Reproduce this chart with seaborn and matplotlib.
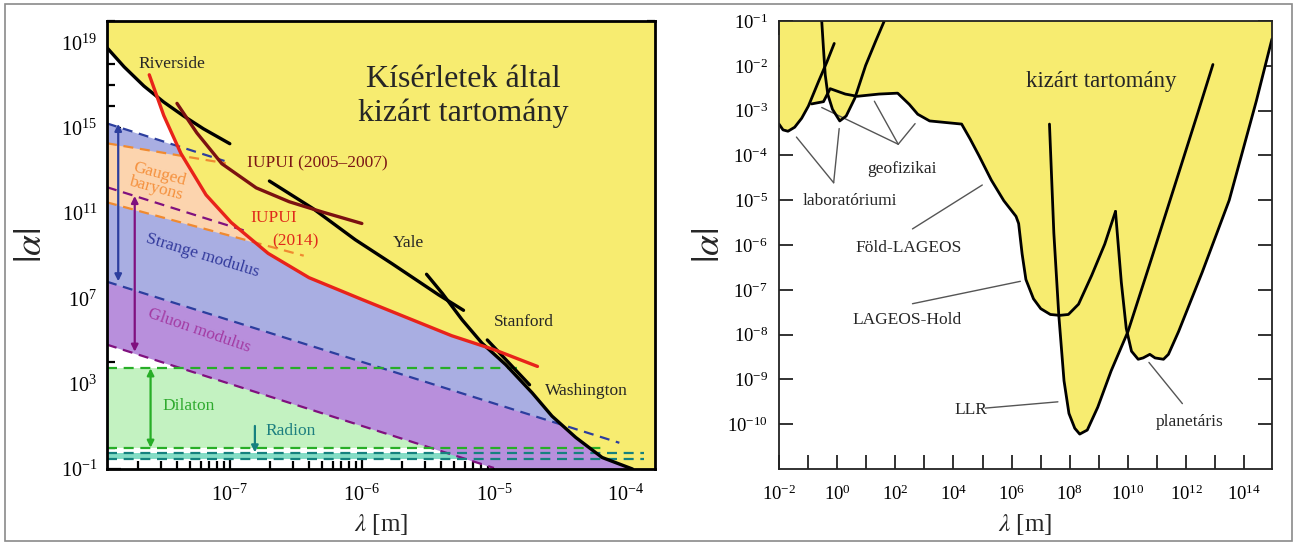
import numpy as np
import matplotlib
matplotlib.use("Agg")
import matplotlib.pyplot as plt
import seaborn as sns
from matplotlib.ticker import FixedLocator, NullFormatter, LogLocator
from matplotlib.patches import Rectangle

# all values are log10 (lambda [m]) / log10 |alpha|

# ---- left panel: experimental curves ----
riverside_x = [-7.93, -7.80, -7.65, -7.50, -7.35, -7.20, -7.00]
riverside_y = [18.75, 17.85, 16.95, 16.20, 15.55, 14.95, 14.25]
iupui14_x = [-7.61, -7.50, -7.37, -7.18, -6.99, -6.71, -6.40, -6.00, -5.70, -5.32, -5.00, -4.67]
iupui14_y = [17.48, 15.57, 13.79, 11.85, 10.56, 9.11, 7.97, 6.95, 6.20, 5.25, 4.60, 3.81]
iupui07_x = [-7.40, -7.25, -7.06, -6.80, -6.55, -6.30, -6.00]
iupui07_y = [16.14, 14.76, 13.31, 12.18, 11.53, 11.05, 10.51]
yale_x = [-6.70, -6.37, -6.05, -5.77, -5.42, -5.23]
yale_y = [12.50, 11.21, 9.75, 8.62, 7.17, 6.44]
wash_x = [-5.51, -5.39, -5.24, -5.09, -4.91, -4.71, -4.56, -4.38, -4.18, -3.95]
wash_y = [8.13, 7.23, 5.99, 4.90, 3.89, 2.57, 1.48, 0.48, -0.46, -1.00]
stanford_x = [-5.05, -4.73]
stanford_y = [5.05, 2.95]

# lower edge of the excluded (yellow) region
excl_x = [-7.93, -7.80, -7.65, -7.55, -7.50, -7.37, -7.18, -6.99, -6.71, -6.40, -6.00,
          -5.70, -5.32, -5.06, -4.91, -4.71, -4.56, -4.38, -4.18, -3.95, -3.78]
excl_y = [18.75, 17.85, 16.95, 16.45, 15.57, 13.79, 11.85, 10.56, 9.11, 7.97, 6.95,
          6.20, 5.25, 4.70, 3.89, 2.57, 1.48, 0.48, -0.46, -1.00, -1.40]

# theory bands (edges at left and right border)
band_x = [-7.93, -3.78]
blue_hi = [15.20, 6.98]
blue_lo = [7.78, -0.30]
orange_hi = [14.27, 9.95]
orange_lo = [11.50, 4.53]
purple_hi = [12.21, 4.12]
purple_lo = [4.83, -3.35]
green_hi = [3.72, 3.72]
green_lo = [0.00, 0.00]
teal_hi = [-0.24, -0.24]
teal_lo = [-0.52, -0.52]

# dashed band edges as drawn (start, end)
blue_hi_seg = ([-7.93, -7.04], [15.20, 13.44])
orange_hi_seg = ([-7.93, -7.03], [14.27, 13.33])
orange_lo_seg = ([-7.93, -6.44], [11.50, 9.00])
purple_hi_seg = ([-7.93, -6.86], [12.21, 10.12])
blue_lo_seg = ([-7.93, -4.05], [7.78, 0.23])
purple_lo_seg = ([-7.93, -5.00], [4.83, -0.95])
green_hi_seg = ([-7.93, -4.80], [3.72, 3.72])
green_lo_seg = ([-7.93, -4.15], [0.00, 0.00])
teal_hi_seg = ([-7.93, -3.86], [-0.24, -0.24])
teal_lo_seg = ([-7.93, -3.86], [-0.52, -0.52])

left_yticks = [-1, 3, 7, 11, 15, 19]
left_xticks = [-7, -6, -5, -4]

# ---- right panel ----
labA_x = [-2.00, -1.86, -1.69, -1.46, -1.22, -0.99, -0.64, -0.35, -0.10]
labA_y = [-3.30, -3.43, -3.46, -3.37, -3.17, -2.90, -2.35, -1.91, -1.50]
labB_x = [-0.53, -0.47, -0.41, -0.32, -0.16, 0.09, 0.31, 0.61, 0.98, 1.33, 1.62]
labB_y = [-1.00, -1.62, -2.20, -2.64, -2.97, -3.23, -3.12, -2.72, -1.99, -1.44, -1.00]
geo_x = [-0.88, -0.47, -0.24, 0.28, 0.69, 1.44, 2.08, 2.48, 2.77, 3.18, 4.28, 4.57, 4.88,
         5.30, 5.73, 6.15, 6.24, 6.36, 6.49, 6.75, 7.00, 7.33, 7.65, 7.95, 8.30, 8.75, 9.20, 9.57]
geo_y = [-2.85, -2.80, -2.51, -2.63, -2.68, -2.63, -2.61, -2.86, -3.08, -3.23, -3.30, -3.63, -4.01,
         -4.55, -5.01, -5.36, -5.52, -6.20, -6.77, -7.20, -7.42, -7.55, -7.57, -7.55, -7.32, -6.68, -5.98, -5.25]
planet_x = [9.57, 9.77, 9.94, 10.12, 10.35, 10.52, 10.75, 10.93, 11.22, 11.39, 11.74, 12.55, 13.48, 14.41, 14.95]
planet_y = [-5.25, -6.83, -7.86, -8.37, -8.55, -8.52, -8.44, -8.52, -8.55, -8.44, -7.93, -6.61, -5.00, -2.79, -1.40]
llr_x = [7.30, 7.45, 7.62, 7.80, 7.97, 8.17, 8.34, 8.60, 8.96, 9.42, 10.00, 10.81, 11.74, 12.40, 12.92]
llr_y = [-3.30, -5.73, -7.56, -9.03, -9.76, -10.09, -10.22, -10.13, -9.62, -8.81, -7.93, -6.30, -4.40, -3.05, -1.97]

rexcl_x = [-2.00, -1.86, -1.69, -1.46, -1.22, -0.99, -0.88, -0.47, -0.33, -0.16, 0.09, 0.31, 0.63,
           1.44, 2.08, 2.48, 2.77, 3.18, 4.28, 4.57, 4.88, 5.30, 5.73, 6.15, 6.24, 6.36, 6.49, 6.75,
           7.00, 7.33, 7.62, 7.80, 7.97, 8.17, 8.34, 8.60, 8.96, 9.42, 9.98, 10.12, 10.35, 10.52,
           10.75, 10.93, 11.22, 11.39, 11.74, 12.55, 13.48, 14.41, 14.95, 15.00]
rexcl_y = [-3.30, -3.43, -3.46, -3.37, -3.17, -2.90, -2.85, -2.80, -2.62, -2.97, -3.23, -3.12, -2.68,
           -2.63, -2.61, -2.86, -3.08, -3.23, -3.30, -3.63, -4.01, -4.55, -5.01, -5.36, -5.52, -6.20,
           -6.77, -7.20, -7.42, -7.55, -7.57, -9.03, -9.76, -10.09, -10.22, -10.13, -9.62, -8.81,
           -7.97, -8.37, -8.55, -8.52, -8.44, -8.52, -8.55, -8.44, -7.93, -6.61, -5.00, -2.79, -1.40, -1.30]

# pointer lines: (from, to) in log coords
geo_ptr = [((2.10, -3.75), (-0.53, -2.93)), ((2.10, -3.75), (1.28, -2.79)), ((2.10, -3.75), (2.68, -3.29))]
lab_ptr = [((-0.12, -4.61), (-1.40, -3.59)), ((-0.12, -4.61), (0.07, -3.40))]
fold_ptr = [((2.59, -5.64), (4.99, -4.66))]
hold_ptr = [((2.59, -7.31), (6.30, -6.81))]
llr_ptr = [((5.09, -9.64), (7.59, -9.50))]
planet_ptr = [((11.87, -9.54), (10.72, -8.62))]

right_xticks = list(range(-2, 15))
right_yticks = list(range(-10, 0))

YELLOW = "#f7ec70"


def p(v):
    return 10.0 ** np.asarray(v, dtype=float)


def tl(e):
    return r"$\mathregular{10^{%d}}$" % e


sns.set_style("white")
plt.rcParams["font.family"] = ["Liberation Serif", "DejaVu Serif"]
plt.rcParams["mathtext.fontset"] = "stix"

fig = plt.figure(figsize=(12.97, 5.45), dpi=100)
ax1 = fig.add_axes([0.0825, 0.1394, 0.4225, 0.822])
ax2 = fig.add_axes([0.6006, 0.1394, 0.3801, 0.822])

# ================= left panel =================
ax1.set_xscale("log")
ax1.set_yscale("log")
ax1.set_xlim(p(-7.93), p(-3.78))
ax1.set_ylim(p(-1), p(20))

bx = p(band_x)
ax1.fill_between(bx, p(green_lo), p(green_hi), color="#c3f2c1", lw=0, zorder=1)
ax1.fill_between(bx, p(teal_lo), p(teal_hi), color="#84dcc5", lw=0, zorder=1)
ax1.fill_between(bx, p(purple_lo), p(purple_hi), color="#b88fdc", lw=0, zorder=1)
ax1.fill_between(bx, p(blue_lo), p(blue_hi), color="#a9aee2", lw=0, zorder=1)
ax1.fill_between(bx, p(orange_lo), p(orange_hi), color="#fcd4ae", lw=0, zorder=1)
ax1.fill_between(p(excl_x), p(excl_y), p(21), color=YELLOW, lw=0, zorder=2)

dash_style = dict(lw=1.6, dashes=(4.5, 3), zorder=3)
for seg, c in [(blue_hi_seg, "#2c3e9e"), (orange_hi_seg, "#f08a30"), (orange_lo_seg, "#f08a30"),
               (purple_hi_seg, "#80107f"), (blue_lo_seg, "#2c3e9e"), (purple_lo_seg, "#80107f"),
               (green_hi_seg, "#27ae27"), (green_lo_seg, "#27ae27"),
               (teal_hi_seg, "#16817f"), (teal_lo_seg, "#16817f")]:
    ax1.plot(p(seg[0]), p(seg[1]), color=c, **dash_style)

for cx, cy, c, w in [(riverside_x, riverside_y, "k", 2.4), (yale_x, yale_y, "k", 2.4),
                     (wash_x, wash_y, "k", 2.4), (stanford_x, stanford_y, "k", 2.4),
                     (iupui07_x, iupui07_y, "#7b1111", 2.4), (iupui14_x, iupui14_y, "#e8231a", 2.4)]:
    sns.lineplot(x=p(cx), y=p(cy), ax=ax1, color=c, linewidth=w, sort=False,
                 estimator=None, zorder=4)

arrow_kw = dict(mutation_scale=10, shrinkA=0, shrinkB=0, lw=1.6)
ax1.annotate("", xy=(p(-7.845), p(7.80)), xytext=(p(-7.845), p(15.18)),
             arrowprops=dict(arrowstyle="<|-|>", color="#2c3e9e", **arrow_kw), zorder=5)
ax1.annotate("", xy=(p(-7.72), p(4.50)), xytext=(p(-7.72), p(11.80)),
             arrowprops=dict(arrowstyle="<|-|>", color="#80107f", **arrow_kw), zorder=5)
ax1.annotate("", xy=(p(-7.60), p(0.0)), xytext=(p(-7.60), p(3.72)),
             arrowprops=dict(arrowstyle="<|-|>", color="#27ae27", **arrow_kw), zorder=5)
ax1.annotate("", xy=(p(-6.81), p(-0.22)), xytext=(p(-6.81), p(1.02)),
             arrowprops=dict(arrowstyle="-|>", color="#16817f", **arrow_kw), zorder=5)

tk = dict(ha="center", va="center", zorder=6)
ax1.text(p(-5.23), p(16.45), "Kísérletek által\nkizárt tartomány", fontsize=23,
         linespacing=1.2, **tk)
ax1.text(p(-7.44), p(18.0), "Riverside", fontsize=12.5, **tk)
ax1.text(p(-6.34), p(13.31), "IUPUI (2005–2007)", fontsize=12.5, color="#7b1515", **tk)
ax1.text(p(-6.67), p(10.75), "IUPUI", fontsize=12.5, color="#e0291a", **tk)
ax1.text(p(-6.50), p(9.67), "(2014)", fontsize=12.5, color="#e0291a", **tk)
ax1.text(p(-5.65), p(9.59), "Yale", fontsize=12.5, **tk)
ax1.text(p(-4.77), p(5.91), "Stanford", fontsize=12.5, **tk)
ax1.text(p(-4.30), p(2.65), "Washington", fontsize=12.5, **tk)
ax1.text(p(-7.55), p(12.5), "Gauged\nbaryons", fontsize=12.5, color="#f5913e",
         rotation=-15, linespacing=0.85, rotation_mode="anchor", **tk)
ax1.text(p(-7.21), p(9.02), "Strange modulus", fontsize=12.5, color="#323a9c",
         rotation=-17, rotation_mode="anchor", **tk)
ax1.text(p(-7.23), p(5.47), "Gluon modulus", fontsize=12.5, color="#a33aa3",
         rotation=-19, rotation_mode="anchor", **tk)
ax1.text(p(-7.31), p(1.94), "Dilaton", fontsize=12.5, color="#2eaa2e", **tk)
ax1.text(p(-6.54), p(0.78), "Radion", fontsize=12.5, color="#1d7f7f", **tk)

ax1.yaxis.set_major_locator(FixedLocator(p(left_yticks)))
ax1.set_yticklabels([tl(e) for e in left_yticks])
ax1.yaxis.set_minor_locator(FixedLocator(p(range(-1, 21))))
ax1.yaxis.set_minor_formatter(NullFormatter())
ax1.xaxis.set_major_locator(FixedLocator(p(left_xticks)))
ax1.set_xticklabels([tl(e) for e in left_xticks])
ax1.xaxis.set_minor_locator(LogLocator(base=10, subs=np.arange(2, 10), numticks=30))
ax1.xaxis.set_minor_formatter(NullFormatter())
ax1.tick_params(which="both", direction="in", bottom=True, left=True, top=True, right=True,
                width=1.6, colors="k", labelsize=14.5)
ax1.tick_params(axis="y", pad=7)
ax1.tick_params(axis="x", pad=11)
ax1.tick_params(which="major", length=10)
ax1.tick_params(which="minor", length=6)
ax1.tick_params(axis="x", which="minor", top=False)
for s in ax1.spines.values():
    s.set_linewidth(2.0)
    s.set_color("k")
    s.set_zorder(7)
ax1.set_xlabel(r"$\lambda$ [m]", fontsize=18)
ax1.set_ylabel(r"$|\alpha|$", fontsize=27)
ax1.xaxis.set_label_coords(0.5, -0.095)
ax1.yaxis.set_label_coords(-0.105, 0.5)

# ================= right panel =================
ax2.set_xscale("log")
ax2.set_yscale("log")
ax2.set_xlim(p(-2), p(14.95))
ax2.set_ylim(p(-11), p(-1))

ax2.fill_between(p(rexcl_x), p(rexcl_y), p(0), color=YELLOW, lw=0, zorder=1)
for cx, cy in [(labA_x, labA_y), (labB_x, labB_y), (geo_x, geo_y), (planet_x, planet_y),
               (llr_x, llr_y)]:
    sns.lineplot(x=p(cx), y=p(cy), ax=ax2, color="k", linewidth=2.0, sort=False,
                 estimator=None, zorder=3)

for ptrs in [geo_ptr, lab_ptr, fold_ptr, hold_ptr, llr_ptr, planet_ptr]:
    for a, b in ptrs:
        ax2.plot(p([a[0], b[0]]), p([a[1], b[1]]), color="#555555", lw=1.0, zorder=2)

ax2.text(p(9.08), p(-2.34), "kizárt tartomány", fontsize=16.5, **tk)
ax2.text(p(2.24), p(-4.30), "geofizikai", fontsize=12.5, **tk)
ax2.text(p(0.45), p(-5.02), "laboratóriumi", fontsize=12.5, **tk)
ax2.text(p(2.45), p(-6.07), "Föld-LAGEOS", fontsize=12.5, **tk)
ax2.text(p(2.42), p(-7.68), "LAGEOS-Hold", fontsize=12.5, **tk)
ax2.text(p(4.59), p(-9.68), "LLR", fontsize=12.5, **tk)
ax2.text(p(12.11), p(-9.94), "planetáris", fontsize=12.5, **tk)

ax2.xaxis.set_major_locator(FixedLocator(p(right_xticks)))
ax2.set_xticklabels([tl(e) if e % 2 == 0 else "" for e in right_xticks])
ax2.xaxis.set_minor_locator(FixedLocator([]))
ax2.yaxis.set_major_locator(FixedLocator(p(right_yticks)))
ax2.set_yticklabels([tl(e) for e in right_yticks])
ax2.yaxis.set_minor_locator(FixedLocator([]))
ax2.tick_params(which="both", direction="in", bottom=True, left=True, top=True, right=True,
                length=10, width=1.3, colors="#222222", labelcolor="k", labelsize=13.5)
ax2.tick_params(axis="y", pad=8)
ax2.tick_params(axis="x", pad=11)
for s in ax2.spines.values():
    s.set_linewidth(1.3)
    s.set_color("#222222")
    s.set_zorder(7)
ax2.set_xlabel(r"$\lambda$ [m]", fontsize=18)
ax2.set_ylabel(r"$|\alpha|$", fontsize=27)
ax2.xaxis.set_label_coords(0.5, -0.095)
ax2.yaxis.set_label_coords(-0.105, 0.5)

fig.add_artist(Rectangle((0.004, 0.008), 0.992, 0.984, transform=fig.transFigure,
                         fill=False, ec="#8a8a8a", lw=1.2))

fig.savefig("out.png", dpi=100)
